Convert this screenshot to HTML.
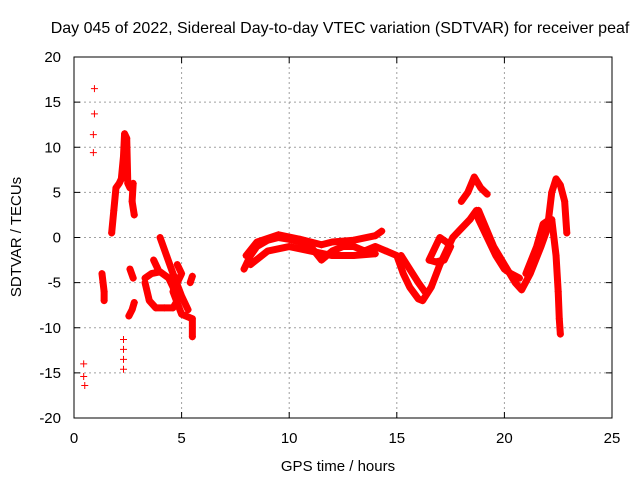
<!DOCTYPE html>
<html><head><meta charset="utf-8"><style>
body{margin:0;background:#fff;}
svg{display:block;font-family:"Liberation Sans",Arial,sans-serif;}
</style></head><body>
<svg id="chart" width="640" height="480">
<rect width="640" height="480" fill="#fff"/>
<text x="340" y="33" text-anchor="middle" font-size="16">Day 045 of 2022, Sidereal Day-to-day VTEC variation (SDTVAR) for receiver peaf</text>
<g id="grid"></g>
<g id="axes"></g>
<g id="marks"></g>
<text x="338" y="471" text-anchor="middle" font-size="15">GPS time / hours</text>
<text transform="translate(21,237) rotate(-90)" text-anchor="middle" font-size="15">SDTVAR / TECUs</text>
</svg>
<script>
const xTicks=[0,5,10,15,20,25];
const yTicks=[-20,-15,-10,-5,0,5,10,15,20];
const pointsX=[0.95,0.95,0.9,0.9,0.45,0.45,0.5,2.3,2.3,2.3,2.3];
const pointsY=[16.5,13.7,11.4,9.4,-14,-15.4,-16.4,-11.3,-12.4,-13.5,-14.6];
const t1x=[1.75,1.85,1.95,2.1,2.2,2.3,2.35,2.45,2.5,2.6,2.75,2.7,2.8];
const t1y=[0.5,3,5.5,6,6.5,9,11.5,11,6,5.5,6,4,2.5];
const t2x=[1.3,1.35,1.4,1.4];
const t2y=[-4,-5,-6,-7];
const t3x=[2.6,2.75];
const t3y=[-3.5,-4.5];
const t4x=[2.55,2.7,2.8];
const t4y=[-8.7,-8,-7.2];
const t5x=[3.3,3.6,4,4.4,4.6,4.8,4.6,4.2,3.8,3.5,3.3];
const t5y=[-4.5,-4,-3.8,-4.5,-5.5,-7,-7.8,-7.8,-7.8,-7,-5];
const t6x=[4,4.3,4.6,5,5.3];
const t6y=[0,-2,-4,-6.5,-8];
const t7x=[3.7,3.9];
const t7y=[-2.5,-3.5];
const t8x=[4.8,5,4.6,5,5.5,5.5];
const t8y=[-3,-4,-6,-8.5,-9,-11];
const t9x=[5.4,5.5];
const t9y=[-5,-4.3];
const t10x=[7.9,8.2,8.5,9,9.5,10,10.5,11,11.5,12,12.5,13,13.5,14,14.5];
const t10y=[-3.5,-2,-1,-0.3,0,-0.2,-0.5,-1,-2.5,-1.5,-1,-1,-1.5,-1,-1.5];
const t11x=[8,8.5,9.5,10.5,11.5,12,13,14,14.3];
const t11y=[-2,-0.5,0.3,-0.2,-0.8,-0.5,-0.3,0.2,0.7];
const t12x=[8.2,9,10,11,12,13,14];
const t12y=[-3,-1.5,-1,-1.5,-2,-2,-1.8];
const t13x=[14.5,15,15.3,15.6,16,16.2,16.6,17,17.3,17.6,18,18.4,18.7,18.8,19.2,19.6,20,20.3,20.7];
const t13y=[-1.5,-2,-4,-5.5,-6.8,-7,-5.5,-3,-1.5,0,1,2,3,2,0,-2,-3.5,-4,-4.5];
const t14x=[18,18.3,18.6,18.9,19.2];
const t14y=[4,5,6.7,5.5,4.8];
const t15x=[18.8,19.5,20.5,20.8,21.2,21.7,22,22.2,22.4,22.6,22.8,22.9];
const t15y=[3,-1,-5,-5.8,-4,-1,1,5,6.5,5.8,4,0.5];
const t16x=[21,21.5,21.8,22.1,22.2,22.4,22.5,22.55,22.6];
const t16y=[-4,-1,1.5,2,2,-2,-6,-9,-10.7];
const t17x=[16.5,16.8,17,17.3,17.5,17.2,16.8,16.5];
const t17y=[-2.5,-1,0,-0.5,-1,-2.5,-2.7,-2.5];
const t18x=[15.2,15.6,16,16.3];
const t18y=[-2,-3.5,-5,-6];
const traces=[[t1x,t1y],[t2x,t2y],[t3x,t3y],[t4x,t4y],[t5x,t5y],[t6x,t6y],[t7x,t7y],[t8x,t8y],[t9x,t9y],[t10x,t10y],[t11x,t11y],[t12x,t12y],[t13x,t13y],[t14x,t14y],[t15x,t15y],[t16x,t16y],[t17x,t17y],[t18x,t18y]];

const X0=74,X1=612,Y0=418,Y1=57;
const xs=v=>X0+(v-0)/(25-0)*(X1-X0);
const ys=v=>Y0-(v+20)/40*(Y0-Y1);
const NS="http://www.w3.org/2000/svg";
function mk(tag,attrs,parent){const e=document.createElementNS(NS,tag);for(const k in attrs)e.setAttribute(k,attrs[k]);parent.appendChild(e);return e;}
const grid=document.getElementById('grid'),axes=document.getElementById('axes'),marks=document.getElementById('marks');
xTicks.forEach(t=>{const x=xs(t);
 if(t>0&&t<25){const l=mk('line',{x1:x,x2:x,y1:Y1,y2:Y0,stroke:'#a0a0a0','stroke-dasharray':'2,3'},grid);}
 mk('line',{x1:x,x2:x,y1:Y0,y2:Y0-6,stroke:'#000'},axes);mk('line',{x1:x,x2:x,y1:Y1,y2:Y1+6,stroke:'#000'},axes);
 const tx=mk('text',{x:x,y:Y0+25,'text-anchor':'middle','font-size':15},axes);tx.textContent=t;
 });
yTicks.forEach(t=>{const y=ys(t);
 if(t>-20&&t<20){const l=mk('line',{x1:X0,x2:X1,y1:y,y2:y,stroke:'#a0a0a0','stroke-dasharray':'2,3'},grid);}
 mk('line',{x1:X0,x2:X0+6,y1:y,y2:y,stroke:'#000'},axes);mk('line',{x1:X1,x2:X1-6,y1:y,y2:y,stroke:'#000'},axes);
 const tx=mk('text',{x:X0-13,y:y+5,'text-anchor':'end','font-size':15},axes);tx.textContent=t;
 });
const fr=mk('rect',{x:X0,y:Y1,width:X1-X0,height:Y0-Y1,fill:'none',stroke:'#000'},axes);

function plus(x,y){const p=mk('path',{d:`M${x-3.5},${y}h7M${x},${y-3.5}v7`,stroke:'#f00','stroke-width':1},marks);
 }
traces.forEach(([tx,ty])=>{
 const pts=tx.map((v,i)=>xs(v)+','+ys(ty[i])).join(' ');
 const pl=mk('polyline',{points:pts,fill:'none',stroke:'#f00','stroke-width':7,'stroke-linejoin':'round','stroke-linecap':'round'},marks);
 
 tx.forEach((v,i)=>plus(xs(v),ys(ty[i])));});
pointsX.forEach((v,i)=>plus(xs(v),ys(pointsY[i])));
</script>
</body></html>
